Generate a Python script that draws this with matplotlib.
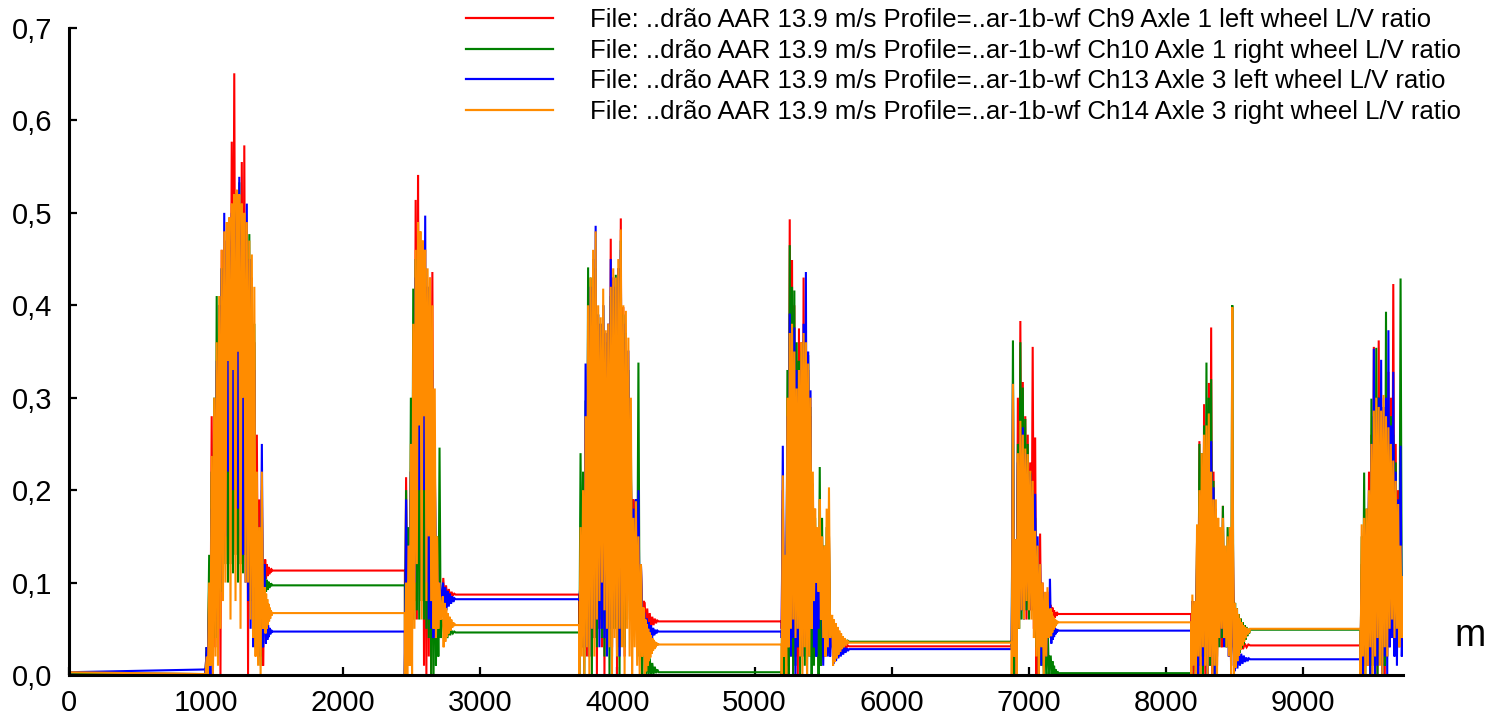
import numpy as np
import matplotlib
matplotlib.use("Agg")
import matplotlib.pyplot as plt
from matplotlib.lines import Line2D
from matplotlib.ticker import FuncFormatter, FixedLocator

# ---------------- data (distance in m, L/V ratio) ----------------
burst_start = [995, 2450, 3722, 5198, 6876, 8185, 9420]
burst_end = [1425, 2720, 4190, 5560, 7155, 8485, 9730]
flare_len = [60, 100, 110, 130, 60, 130]
x_max = 9730

labels = [
    "File: ..drão AAR 13.9 m/s Profile=..ar-1b-wf Ch9 Axle 1 left wheel L/V ratio",
    "File: ..drão AAR 13.9 m/s Profile=..ar-1b-wf Ch10 Axle 1 right wheel L/V ratio",
    "File: ..drão AAR 13.9 m/s Profile=..ar-1b-wf Ch13 Axle 3 left wheel L/V ratio",
    "File: ..drão AAR 13.9 m/s Profile=..ar-1b-wf Ch14 Axle 3 right wheel L/V ratio",
]

# level at x=0 and just before first curve
red_init = [0.002, 0.001]
green_init = [0.002, 0.001]
blue_init = [0.003, 0.006]
orange_init = [0.003, 0.001]

# steady level after each curve
red_flat = [0.113, 0.087, 0.058, 0.031, 0.066, 0.032]
green_flat = [0.097, 0.046, 0.003, 0.036, 0.002, 0.049]
blue_flat = [0.047, 0.082, 0.047, 0.028, 0.048, 0.017]
orange_flat = [0.067, 0.054, 0.033, 0.035, 0.057, 0.050]

# oscillation peaks / troughs inside each curve section
red_pk = [
    [0.03, 0.10, 0.28, 0.25, 0.33, 0.40, 0.46, 0.47, 0.44, 0.47, 0.577, 0.651, 0.50, 0.51, 0.555, 0.573, 0.48, 0.45, 0.43, 0.36, 0.26, 0.19, 0.20, 0.10],
    [0.214, 0.12, 0.22, 0.35, 0.514, 0.541, 0.45, 0.44, 0.42, 0.40, 0.43, 0.436, 0.25, 0.13, 0.09, 0.07],
    [0.12, 0.18, 0.25, 0.35, 0.40, 0.43, 0.431, 0.38, 0.37, 0.40, 0.36, 0.38, 0.472, 0.43, 0.41, 0.44, 0.494, 0.398, 0.36, 0.30, 0.22, 0.19, 0.17, 0.16, 0.12, 0.08],
    [0.20, 0.127, 0.30, 0.493, 0.449, 0.40, 0.34, 0.375, 0.36, 0.43, 0.35, 0.33, 0.28, 0.20, 0.16, 0.13, 0.124, 0.15, 0.13, 0.12, 0.15, 0.06],
    [0.20, 0.12, 0.30, 0.383, 0.317, 0.28, 0.26, 0.23, 0.355, 0.257, 0.14, 0.153, 0.10, 0.08, 0.09, 0.07],
    [0.06, 0.07, 0.145, 0.253, 0.22, 0.293, 0.25, 0.316, 0.376, 0.22, 0.18, 0.15, 0.137, 0.183, 0.12, 0.11, 0.10, 0.20],
    [0.12, 0.15, 0.17, 0.22, 0.26, 0.355, 0.30, 0.362, 0.30, 0.28, 0.26, 0.328, 0.30, 0.423, 0.25, 0.20, 0.15, 0.077],
]
red_tr = [
    [0.00, 0.01, 0.02, 0.00, 0.03, 0.05, 0.00, 0.15, 0.20, 0.17, 0.25, 0.30, 0.22, 0.16, 0.12, 0.20, 0.18, 0.00, 0.10, 0.08, 0.05, 0.03, 0.02, 0.01],
    [0.00, 0.02, 0.03, 0.06, 0.08, 0.06, 0.20, 0.15, 0.01, 0.00, 0.02, 0.00, 0.04, 0.05, 0.06, 0.08],
    [0.05, 0.03, 0.06, 0.02, 0.05, 0.07, 0.04, 0.00, 0.05, 0.03, 0.00, 0.04, 0.06, 0.02, 0.05, 0.00, 0.03, 0.05, 0.02, 0.08, 0.12, 0.10, 0.14, 0.08, 0.06, 0.06],
    [0.05, 0.04, 0.06, 0.05, 0.03, 0.00, 0.02, 0.00, 0.04, 0.03, 0.05, 0.02, 0.04, 0.03, 0.02, 0.03, 0.02, 0.04, 0.03, 0.03, 0.03, 0.03],
    [0.03, 0.00, 0.02, 0.06, 0.07, 0.08, 0.06, 0.09, 0.07, 0.05, 0.00, 0.03, 0.02, 0.04, 0.05, 0.06],
    [0.02, 0.00, 0.03, 0.01, 0.00, 0.02, 0.00, 0.03, 0.01, 0.00, 0.02, 0.01, 0.04, 0.03, 0.05, 0.04, 0.03, 0.03],
    [0.02, 0.00, 0.03, 0.01, 0.00, 0.02, 0.04, 0.00, 0.02, 0.03, 0.00, 0.02, 0.04, 0.05, 0.03, 0.04, 0.05, 0.05],
]
green_pk = [
    [0.03, 0.13, 0.22, 0.30, 0.41, 0.40, 0.44, 0.44, 0.43, 0.45, 0.46, 0.48, 0.521, 0.533, 0.47, 0.46, 0.45, 0.477, 0.42, 0.38, 0.19, 0.15, 0.18, 0.12],
    [0.20, 0.16, 0.30, 0.418, 0.45, 0.474, 0.46, 0.45, 0.44, 0.42, 0.38, 0.30, 0.24, 0.15, 0.246, 0.06],
    [0.24, 0.22, 0.297, 0.441, 0.43, 0.42, 0.44, 0.39, 0.38, 0.40, 0.36, 0.37, 0.41, 0.42, 0.433, 0.44, 0.47, 0.39, 0.37, 0.33, 0.25, 0.17, 0.18, 0.338, 0.12, 0.06],
    [0.18, 0.12, 0.33, 0.465, 0.42, 0.416, 0.36, 0.34, 0.35, 0.36, 0.37, 0.346, 0.29, 0.20, 0.17, 0.15, 0.225, 0.17, 0.14, 0.16, 0.15, 0.05],
    [0.362, 0.14, 0.25, 0.36, 0.311, 0.277, 0.25, 0.22, 0.20, 0.17, 0.13, 0.10, 0.08, 0.06, 0.07, 0.02],
    [0.05, 0.07, 0.145, 0.25, 0.24, 0.27, 0.338, 0.30, 0.32, 0.21, 0.17, 0.16, 0.15, 0.183, 0.13, 0.16, 0.16, 0.40],
    [0.15, 0.219, 0.18, 0.20, 0.299, 0.28, 0.354, 0.30, 0.27, 0.27, 0.393, 0.26, 0.28, 0.26, 0.23, 0.183, 0.429, 0.10],
]
green_tr = [
    [0.00, 0.02, 0.03, 0.05, 0.04, 0.06, 0.09, 0.10, 0.12, 0.10, 0.12, 0.11, 0.13, 0.10, 0.12, 0.11, 0.13, 0.10, 0.08, 0.05, 0.03, 0.02, 0.01, 0.06],
    [0.00, 0.01, 0.03, 0.05, 0.06, 0.07, 0.06, 0.08, 0.06, 0.05, 0.04, 0.00, 0.00, 0.01, 0.02, 0.04],
    [0.00, 0.03, 0.00, 0.05, 0.02, 0.00, 0.04, 0.03, 0.06, 0.04, 0.02, 0.05, 0.00, 0.03, 0.05, 0.02, 0.00, 0.04, 0.03, 0.06, 0.10, 0.05, 0.08, 0.06, 0.02, 0.00],
    [0.00, 0.00, 0.01, 0.00, 0.02, 0.00, 0.01, 0.03, 0.00, 0.02, 0.01, 0.00, 0.02, 0.00, 0.01, 0.02, 0.00, 0.01, 0.02, 0.03, 0.03, 0.03],
    [0.03, 0.00, 0.01, 0.05, 0.06, 0.08, 0.07, 0.06, 0.08, 0.06, 0.03, 0.00, 0.01, 0.00, 0.00, 0.00],
    [0.00, 0.02, 0.00, 0.01, 0.03, 0.00, 0.02, 0.00, 0.01, 0.03, 0.00, 0.02, 0.03, 0.04, 0.05, 0.03, 0.04, 0.03],
    [0.00, 0.01, 0.00, 0.02, 0.00, 0.01, 0.03, 0.00, 0.02, 0.00, 0.01, 0.03, 0.04, 0.05, 0.06, 0.04, 0.05, 0.06],
]
blue_pk = [
    [0.03, 0.08, 0.18, 0.26, 0.34, 0.40, 0.44, 0.50, 0.47, 0.48, 0.50, 0.51, 0.512, 0.539, 0.50, 0.49, 0.51, 0.45, 0.42, 0.33, 0.20, 0.15, 0.25, 0.12],
    [0.19, 0.14, 0.22, 0.33, 0.43, 0.46, 0.45, 0.44, 0.497, 0.42, 0.40, 0.33, 0.24, 0.12, 0.10, 0.09],
    [0.10, 0.17, 0.337, 0.38, 0.42, 0.45, 0.486, 0.39, 0.38, 0.40, 0.37, 0.38, 0.45, 0.43, 0.42, 0.44, 0.46, 0.38, 0.36, 0.351, 0.221, 0.18, 0.19, 0.20, 0.12, 0.07],
    [0.248, 0.10, 0.28, 0.391, 0.37, 0.376, 0.33, 0.30, 0.34, 0.38, 0.436, 0.35, 0.308, 0.207, 0.15, 0.12, 0.13, 0.10, 0.09, 0.08, 0.07, 0.04],
    [0.315, 0.147, 0.23, 0.26, 0.268, 0.24, 0.22, 0.218, 0.20, 0.196, 0.15, 0.12, 0.09, 0.08, 0.07, 0.104],
    [0.08, 0.08, 0.12, 0.17, 0.20, 0.22, 0.23, 0.24, 0.253, 0.203, 0.16, 0.115, 0.11, 0.10, 0.09, 0.108, 0.07, 0.10],
    [0.10, 0.14, 0.16, 0.20, 0.25, 0.353, 0.28, 0.30, 0.341, 0.29, 0.30, 0.373, 0.27, 0.328, 0.22, 0.19, 0.248, 0.08],
]
blue_tr = [
    [0.00, 0.02, 0.00, 0.04, 0.06, 0.05, 0.10, 0.12, 0.15, 0.22, 0.23, 0.20, 0.22, 0.18, 0.15, 0.13, 0.10, 0.08, 0.05, 0.03, 0.06, 0.02, 0.04, 0.03],
    [0.00, 0.03, 0.05, 0.06, 0.10, 0.15, 0.20, 0.22, 0.20, 0.10, 0.06, 0.05, 0.04, 0.05, 0.06, 0.08],
    [0.08, 0.05, 0.03, 0.06, 0.02, 0.05, 0.04, 0.06, 0.03, 0.05, 0.04, 0.02, 0.05, 0.03, 0.06, 0.04, 0.02, 0.05, 0.08, 0.10, 0.12, 0.06, 0.10, 0.04, 0.05, 0.05],
    [0.04, 0.03, 0.05, 0.04, 0.02, 0.04, 0.00, 0.03, 0.05, 0.02, 0.04, 0.03, 0.05, 0.06, 0.03, 0.02, 0.05, 0.06, 0.01, 0.02, 0.02, 0.02],
    [0.03, 0.02, 0.00, 0.06, 0.07, 0.06, 0.09, 0.08, 0.07, 0.08, 0.06, 0.04, 0.01, 0.03, 0.02, 0.04],
    [0.03, 0.01, 0.02, 0.00, 0.02, 0.01, 0.03, 0.00, 0.02, 0.01, 0.00, 0.03, 0.04, 0.05, 0.03, 0.04, 0.02, 0.01],
    [0.02, 0.00, 0.01, 0.03, 0.00, 0.02, 0.00, 0.01, 0.03, 0.00, 0.02, 0.00, 0.03, 0.04, 0.02, 0.01, 0.03, 0.02],
]
orange_pk = [
    [0.02, 0.10, 0.237, 0.30, 0.36, 0.41, 0.46, 0.48, 0.49, 0.495, 0.51, 0.52, 0.525, 0.52, 0.51, 0.50, 0.49, 0.47, 0.455, 0.42, 0.22, 0.16, 0.22, 0.09],
    [0.10, 0.14, 0.25, 0.38, 0.46, 0.49, 0.48, 0.47, 0.46, 0.44, 0.43, 0.40, 0.31, 0.15, 0.10, 0.07],
    [0.16, 0.20, 0.28, 0.40, 0.43, 0.46, 0.48, 0.40, 0.387, 0.418, 0.373, 0.38, 0.42, 0.44, 0.43, 0.45, 0.482, 0.40, 0.394, 0.365, 0.30, 0.17, 0.188, 0.15, 0.12, 0.073],
    [0.216, 0.13, 0.30, 0.37, 0.38, 0.35, 0.31, 0.33, 0.36, 0.37, 0.36, 0.337, 0.30, 0.22, 0.18, 0.16, 0.19, 0.15, 0.14, 0.18, 0.203, 0.06],
    [0.315, 0.147, 0.24, 0.275, 0.26, 0.245, 0.239, 0.221, 0.21, 0.156, 0.14, 0.12, 0.10, 0.09, 0.095, 0.06],
    [0.087, 0.08, 0.163, 0.20, 0.24, 0.26, 0.27, 0.283, 0.22, 0.19, 0.19, 0.17, 0.16, 0.17, 0.14, 0.15, 0.16, 0.398],
    [0.163, 0.17, 0.18, 0.20, 0.25, 0.286, 0.30, 0.29, 0.286, 0.303, 0.28, 0.268, 0.25, 0.232, 0.21, 0.185, 0.14, 0.106],
]
orange_tr = [
    [0.00, 0.00, 0.01, 0.00, 0.02, 0.01, 0.05, 0.08, 0.10, 0.34, 0.06, 0.33, 0.08, 0.35, 0.05, 0.30, 0.10, 0.10, 0.06, 0.04, 0.02, 0.01, 0.00, 0.05],
    [0.00, 0.00, 0.01, 0.00, 0.05, 0.12, 0.27, 0.06, 0.28, 0.08, 0.15, 0.08, 0.05, 0.04, 0.05, 0.06],
    [0.00, 0.02, 0.00, 0.03, 0.00, 0.05, 0.02, 0.06, 0.08, 0.10, 0.07, 0.05, 0.03, 0.00, 0.04, 0.02, 0.05, 0.03, 0.00, 0.05, 0.02, 0.00, 0.03, 0.01, 0.00, 0.02],
    [0.00, 0.02, 0.00, 0.03, 0.05, 0.06, 0.04, 0.05, 0.02, 0.00, 0.03, 0.00, 0.02, 0.05, 0.08, 0.10, 0.09, 0.06, 0.04, 0.02, 0.03, 0.04],
    [0.00, 0.02, 0.00, 0.05, 0.07, 0.06, 0.08, 0.07, 0.06, 0.04, 0.02, 0.00, 0.03, 0.00, 0.02, 0.04],
    [0.00, 0.01, 0.00, 0.02, 0.00, 0.03, 0.01, 0.00, 0.02, 0.00, 0.01, 0.00, 0.04, 0.05, 0.04, 0.03, 0.02, 0.00],
    [0.00, 0.02, 0.00, 0.01, 0.03, 0.00, 0.02, 0.04, 0.01, 0.00, 0.03, 0.02, 0.05, 0.06, 0.04, 0.05, 0.03, 0.04],
]

# decaying settling oscillation right after each curve
red_fl = [
    [0.125, 0.104, 0.120, 0.107, 0.117, 0.109, 0.115, 0.111, 0.114, 0.113],
    [0.105, 0.078, 0.097, 0.082, 0.093, 0.084, 0.090, 0.086, 0.088, 0.087],
    [0.078, 0.044, 0.072, 0.048, 0.067, 0.052, 0.063, 0.054, 0.061, 0.056, 0.059, 0.058],
    [0.045, 0.018, 0.040, 0.022, 0.036, 0.025, 0.034, 0.027, 0.033, 0.029, 0.032, 0.031],
    [0.076, 0.058, 0.073, 0.060, 0.070, 0.062, 0.068, 0.064, 0.067, 0.066],
    [0.042, 0.022, 0.039, 0.025, 0.036, 0.028, 0.034, 0.030, 0.033, 0.032],
]
green_fl = [
    [0.105, 0.090, 0.103, 0.092, 0.101, 0.094, 0.099, 0.096, 0.098, 0.097],
    [0.058, 0.036, 0.054, 0.040, 0.050, 0.043, 0.048, 0.045, 0.047, 0.046],
    [0.030, 0.000, 0.024, 0.000, 0.018, 0.000, 0.013, 0.001, 0.009, 0.002, 0.006, 0.003],
    [0.055, 0.018, 0.050, 0.022, 0.046, 0.026, 0.043, 0.029, 0.040, 0.032, 0.038, 0.034, 0.037, 0.036],
    [0.020, 0.000, 0.015, 0.000, 0.010, 0.000, 0.006, 0.001, 0.004, 0.002],
    [0.085, 0.005, 0.078, 0.012, 0.072, 0.018, 0.066, 0.024, 0.061, 0.029, 0.057, 0.033, 0.054, 0.038, 0.052, 0.042, 0.050, 0.045, 0.049],
]
blue_fl = [
    [0.062, 0.034, 0.058, 0.038, 0.054, 0.041, 0.051, 0.044, 0.049, 0.046, 0.047],
    [0.100, 0.066, 0.095, 0.070, 0.091, 0.074, 0.088, 0.077, 0.085, 0.079, 0.083, 0.082],
    [0.066, 0.030, 0.061, 0.034, 0.057, 0.037, 0.054, 0.040, 0.051, 0.043, 0.049, 0.045, 0.048, 0.047],
    [0.040, 0.012, 0.037, 0.015, 0.034, 0.018, 0.032, 0.020, 0.031, 0.022, 0.030, 0.024, 0.029, 0.026, 0.028],
    [0.062, 0.034, 0.058, 0.038, 0.055, 0.041, 0.052, 0.044, 0.050, 0.046, 0.049, 0.048],
    [0.032, 0.004, 0.029, 0.007, 0.026, 0.010, 0.023, 0.012, 0.021, 0.014, 0.019, 0.015, 0.018, 0.017],
]
orange_fl = [
    [0.095, 0.045, 0.088, 0.050, 0.082, 0.054, 0.077, 0.058, 0.073, 0.061, 0.070, 0.064, 0.068, 0.067],
    [0.085, 0.030, 0.078, 0.036, 0.072, 0.041, 0.067, 0.045, 0.063, 0.048, 0.060, 0.051, 0.057, 0.053, 0.055, 0.054],
    [0.066, 0.000, 0.060, 0.004, 0.055, 0.010, 0.050, 0.015, 0.046, 0.019, 0.043, 0.023, 0.040, 0.026, 0.038, 0.028, 0.036, 0.030, 0.035, 0.032, 0.034, 0.033],
    [0.065, 0.010, 0.060, 0.014, 0.056, 0.018, 0.052, 0.022, 0.048, 0.025, 0.045, 0.028, 0.042, 0.030, 0.040, 0.032, 0.038, 0.034, 0.036, 0.035],
    [0.072, 0.042, 0.068, 0.046, 0.064, 0.049, 0.062, 0.051, 0.060, 0.053, 0.059, 0.055, 0.058, 0.057],
    [0.085, 0.000, 0.078, 0.008, 0.072, 0.015, 0.066, 0.021, 0.061, 0.027, 0.057, 0.032, 0.054, 0.036, 0.052, 0.040, 0.051, 0.044, 0.050, 0.046, 0.050],
]

colors = ["#ff0000", "#008000", "#0000ff", "#ff8c00"]


def build(init, flat, pk, tr, fl):
    xs = [0.0, burst_start[0]]
    ys = [init[0], init[1]]
    for b in range(len(burst_start)):
        vals = []
        for t, p in zip(tr[b], pk[b]):
            vals += [t, p]
        xs.extend(np.linspace(burst_start[b], burst_end[b], len(vals)))
        ys.extend(vals)
        if b < len(flare_len):
            fx = np.linspace(burst_end[b], burst_end[b] + flare_len[b], len(fl[b]) + 1)[1:]
            xs.extend(fx)
            ys.extend(fl[b])
            xs.append(burst_start[b + 1])
            ys.append(flat[b])
    return np.array(xs), np.array(ys)


series = [
    build(red_init, red_flat, red_pk, red_tr, red_fl),
    build(green_init, green_flat, green_pk, green_tr, green_fl),
    build(blue_init, blue_flat, blue_pk, blue_tr, blue_fl),
    build(orange_init, orange_flat, orange_pk, orange_tr, orange_fl),
]

# ---------------- plot ----------------
plt.rcParams["font.family"] = ["Liberation Sans", "DejaVu Sans"]
W, H = 1492, 717
fig = plt.figure(figsize=(W / 100, H / 100), dpi=100)
ax = fig.add_axes([69 / W, 1 - 675 / H, (1403 - 69) / W, (675 - 28) / H])

for (xs, ys), c in zip(series, colors):
    ax.plot(xs, ys, color=c, lw=1.5, solid_joinstyle="miter")

ax.set_xlim(0, x_max)
ax.set_ylim(0, 0.7)
ax.xaxis.set_major_locator(FixedLocator(np.arange(0, 9001, 1000)))
ax.yaxis.set_major_locator(FixedLocator(np.arange(0, 0.71, 0.1)))
ax.yaxis.set_major_formatter(FuncFormatter(lambda v, p: f"{v:.1f}".replace(".", ",")))
ax.xaxis.set_major_formatter(FuncFormatter(lambda v, p: f"{int(round(v))}"))

for s in ["top", "right"]:
    ax.spines[s].set_visible(False)
for s in ["left", "bottom"]:
    ax.spines[s].set_linewidth(2.2)
    ax.spines[s].set_color("black")
ax.tick_params(axis="both", direction="in", length=6, width=1.6, labelsize=21, colors="black")
ax.tick_params(axis="y", pad=12)
ax.tick_params(axis="x", pad=10)

fig.text(1470 / W, 1 - 636 / H, "m", ha="center", va="center", fontsize=27)

handles = [Line2D([0], [0], color=c, lw=1.6) for c in colors]
fig.legend(handles, labels, loc="upper left", bbox_to_anchor=(466 / W, 1 - 8 / H),
           bbox_transform=fig.transFigure, frameon=False, fontsize=18.5,
           handlelength=3.39, handletextpad=1.44, labelspacing=0.26,
           borderpad=0, borderaxespad=0)

fig.savefig("out.png", dpi=100)
